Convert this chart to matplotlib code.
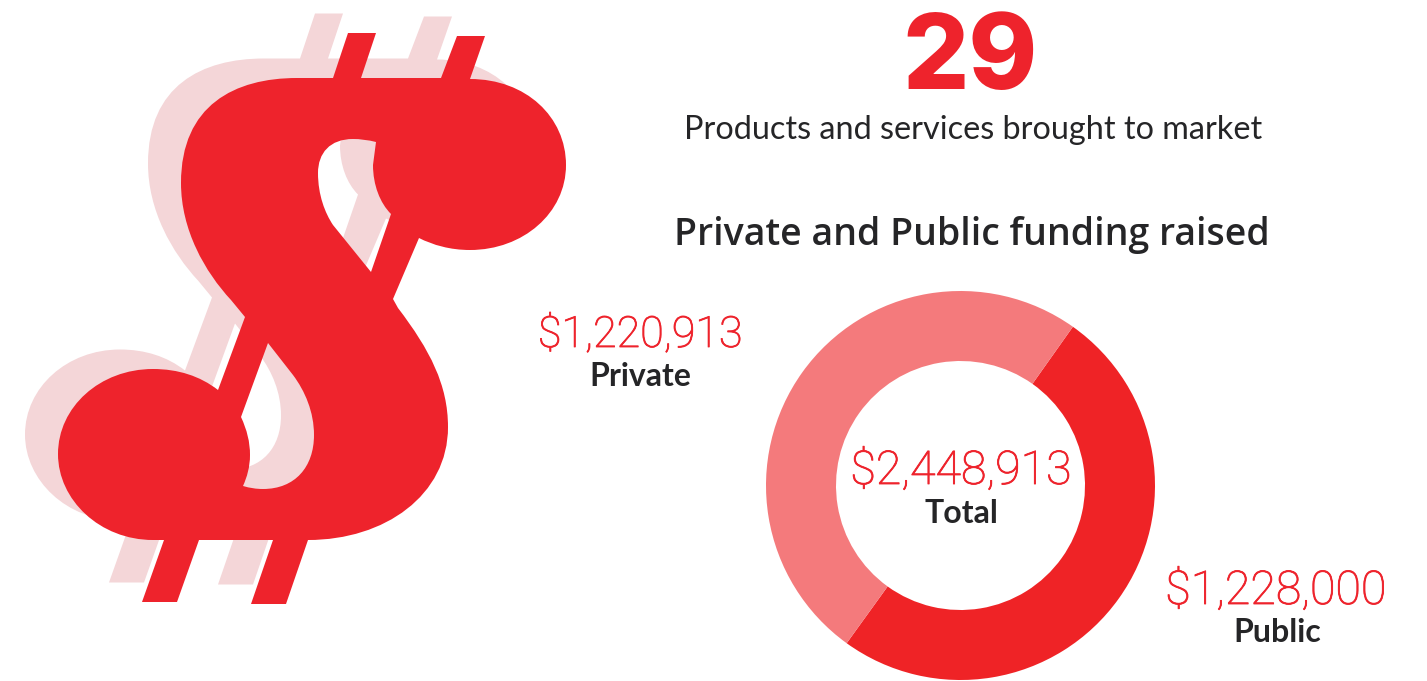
import matplotlib
matplotlib.use("Agg")
import matplotlib.pyplot as plt
import matplotlib.patheffects as pe
from matplotlib.path import Path
from matplotlib.patches import PathPatch
from matplotlib.transforms import Affine2D

# ---- data ----
categories = ["Public", "Private"]
values = [1228000, 1220913]
value_labels = ["$1,228,000", "$1,220,913"]
total_label = "$2,448,913"
total_name = "Total"
products_count = "29"
products_text = "Products and services brought to market"
title = "Private and Public funding raised"

RED = "#EE232C"
PUB = "#EF2326"
PRI = "#F47A7C"
SHADOW = "#F4D6D8"
DARK = "#252527"
W, H = 1427, 681

SANS = "Lato"
NUM = "Roboto"

fig = plt.figure(figsize=(W / 100, H / 100), dpi=100, facecolor="white")
ax = fig.add_axes([0, 0, 1, 1])
ax.set_xlim(0, W)
ax.set_ylim(H, 0)
ax.axis("off")

# decorative dollar-sign glyph, in pixel space
M, L, C, Z = Path.MOVETO, Path.LINETO, Path.CURVE4, Path.CLOSEPOLY
glyph = [
    (M, [(297, 78)]), (L, [(333, 78)]), (L, [(348, 33)]), (L, [(376, 33)]), (L, [(361, 78)]),
    (L, [(441, 78)]), (L, [(457, 36)]), (L, [(485, 36)]), (L, [(470, 79)]),
    (C, [(526, 79), (566, 117), (566, 165)]),
    (C, [(566, 213), (523, 250), (470, 250)]),
    (C, [(450, 250), (433, 245), (419, 238)]),
    (L, [(393, 299)]), (L, [(398, 308)]),
    (C, [(430, 350), (448, 385), (448, 427)]),
    (C, [(448, 495), (385, 540), (308, 540)]),
    (L, [(286, 604)]), (L, [(251, 604)]), (L, [(273, 540)]), (L, [(199, 540)]),
    (L, [(177, 602)]), (L, [(142, 602)]), (L, [(164, 540)]), (L, [(153, 540)]),
    (C, [(100, 540), (58, 500), (58, 454)]),
    (C, [(58, 407), (100, 369), (153, 369)]),
    (C, [(178, 369), (200, 376), (218, 390)]),
    (L, [(245, 317)]), (L, [(231, 300)]),
    (C, [(205, 272), (181, 230), (181, 183)]),
    (C, [(181, 105), (235, 78), (297, 78)]),
    (Z, [(297, 78)]),
    # upper counter
    (M, [(376, 142)]),
    (C, [(368, 140), (360, 139), (353, 139)]),
    (C, [(330, 139), (318, 153), (318, 173)]),
    (C, [(318, 195), (325, 213), (333, 225)]),
    (L, [(371, 272)]), (L, [(391, 214)]),
    (C, [(380, 203), (373, 185), (373, 165)]),
    (L, [(376, 142)]),
    (Z, [(376, 142)]),
    # lower counter
    (M, [(268, 343)]), (L, [(241, 417)]),
    (C, [(247, 430), (250, 442), (250, 455)]),
    (C, [(250, 467), (247, 477), (243, 486)]),
    (C, [(250, 488), (256, 489), (263, 489)]),
    (C, [(295, 489), (314, 467), (314, 435)]),
    (C, [(314, 412), (305, 391), (293, 375)]),
    (L, [(268, 343)]),
    (Z, [(268, 343)]),
]
verts, codes = [], []
for code, pts in glyph:
    for p in pts:
        verts.append(p)
        codes.append(code)
dollar = Path(verts, codes)
ax.add_patch(PathPatch(dollar, fc=SHADOW, ec="none",
                       transform=Affine2D().translate(-33, -19.5) + ax.transData))
ax.add_patch(PathPatch(dollar, fc=RED, ec="none", transform=ax.transData))

# donut
side = 2 * 194.5
pie_ax = fig.add_axes([(960.5 - 194.5) / W, (H - 485.5 - 194.5) / H, side / W, side / H])
pie_ax.pie(values, colors=[PUB, PRI], startangle=54.7, counterclock=False, radius=1.0,
           wedgeprops=dict(width=70 / 194.5, linewidth=0))
pie_ax.set_xlim(-1, 1)
pie_ax.set_ylim(-1, 1)

# text
def t(x, y, s, size, color, family, weight="normal", stroke=0):
    txt = ax.text(x, y, s, fontsize=size, color=color, family=family, weight=weight,
                  ha="center", va="baseline", zorder=5)
    if stroke:
        txt.set_path_effects([pe.withStroke(linewidth=stroke, foreground=color)])

t(970, 89, products_count, 75, RED, "Inter", 800)
t(973, 139, products_text, 23.3, DARK, SANS)
t(972, 245, title, 27, DARK, "Open Sans", "semibold")
t(640, 347, value_labels[1], 31, RED, NUM, "light", 0.6)
t(640, 386, categories[1], 23, DARK, SANS, "bold")
t(961, 484, total_label, 33.5, RED, NUM, "light", 0.6)
t(961, 523, total_name, 23, DARK, SANS, "bold")
t(1276, 604, value_labels[0], 33.5, RED, NUM, "light", 0.6)
t(1277, 642, categories[0], 23, DARK, SANS, "bold")

pie_ax.set_zorder(1)
ax.set_zorder(2)
ax.patch.set_alpha(0)
fig.savefig("out.png", dpi=100, facecolor="white")
